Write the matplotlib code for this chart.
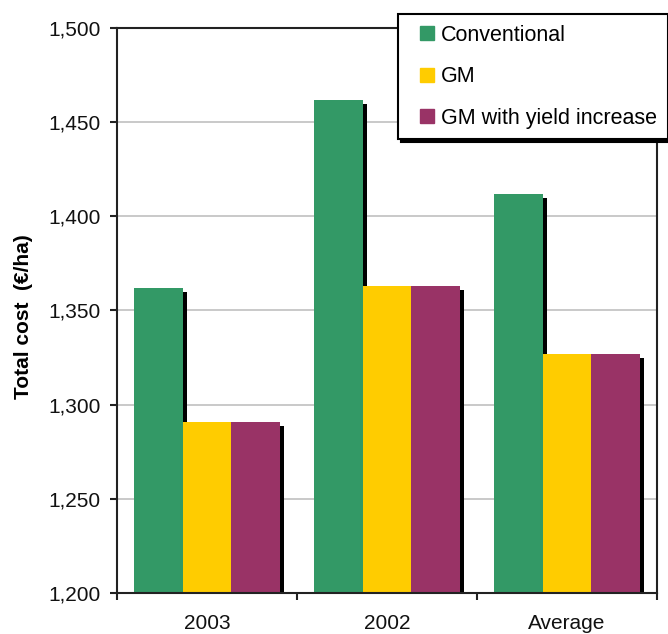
import numpy as np
import matplotlib
matplotlib.use('Agg')
import matplotlib.patheffects as pe
from matplotlib.lines import Line2D
from matplotlib import pyplot as plt

plt.rcParams['font.family'] = ['Liberation Sans', 'DejaVu Sans']

# total cost per hectare, by season
categories = ['2003', '2002', 'Average']
conventional = [1362, 1462, 1412]
gm = [1291, 1363, 1327]
gm_yield = [1291, 1363, 1327]
series_names = ['Conventional', 'GM', 'GM with yield increase']
colours = ['#339966', '#FFCC00', '#993366']

fig = plt.figure(figsize=(6.68, 6.34), dpi=100)
ax = fig.add_axes([117/668, 41/634, 540/668, 565/634])

x = np.arange(len(categories))
w = 0.27
shadow = [pe.SimplePatchShadow(offset=(3, -3), shadow_rgbFace='k', alpha=1.0), pe.Normal()]
for i, (vals, col) in enumerate(zip([conventional, gm, gm_yield], colours)):
    bars = ax.bar(x + (i - 1)*w, vals, w, color=col, zorder=3)
    for b in bars:
        b.set_path_effects(shadow)

ax.set_xlim(-0.5, 2.5)
ax.set_ylim(1200, 1500)
ax.set_yticks(np.arange(1200, 1501, 50))
ax.yaxis.set_major_formatter(matplotlib.ticker.FuncFormatter(lambda v, p: '{:,.0f}'.format(v)))
ax.set_xticks(x)
ax.set_xticklabels(categories)
ax.set_xticks([-0.5, 0.5, 1.5, 2.5], minor=True)
ax.tick_params(axis='x', which='major', length=0, pad=15, labelsize=15, colors='#111111')
ax.tick_params(axis='x', which='minor', length=5, width=1.5, direction='out', color='#222222')
ax.tick_params(axis='y', length=5, width=1.5, direction='out', pad=7, labelsize=15,
               colors='#111111')
ax.tick_params(axis='y', color='#222222')
ax.grid(axis='y', color='#c0c0c0', lw=1.2, zorder=0)
ax.set_axisbelow(True)
for s in ax.spines.values():
    s.set_color('#222222')
    s.set_linewidth(1.5)
    s.set_zorder(4)

ax.set_ylabel('Total cost  (€/ha)', fontsize=15, fontweight='bold')
ax.yaxis.set_label_coords(-0.155, 0.49)

# plain square keys, no shadow on them
handles = [Line2D([], [], ls='none', marker='s', markersize=10, markerfacecolor=c,
                  markeredgecolor=c) for c in colours]
leg = fig.legend(handles, series_names, loc='upper left',
                 bbox_to_anchor=(398/668, 1 - 14/634), borderaxespad=0,
                 fontsize=15.5, frameon=True, fancybox=False, edgecolor='k',
                 shadow={'color': 'k', 'alpha': 1.0}, handlelength=1.7,
                 handletextpad=-0.2, labelspacing=0.95, borderpad=0.5)
leg.get_frame().set_linewidth(1.5)

fig.savefig('out.png', dpi=100)
